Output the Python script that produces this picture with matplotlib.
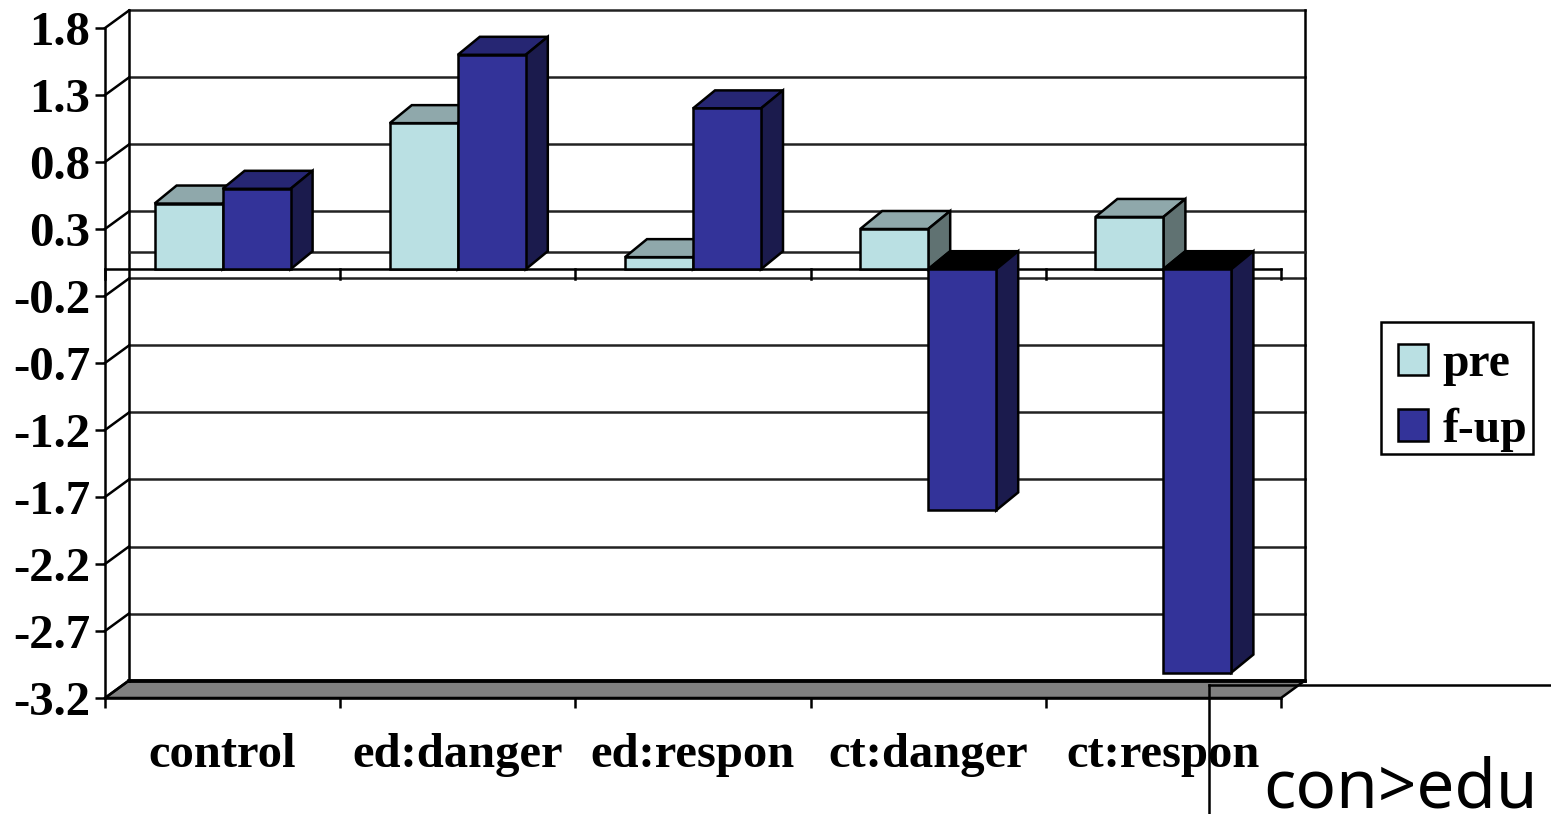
import matplotlib
matplotlib.use("Agg")
import matplotlib.pyplot as plt
from matplotlib.lines import Line2D
from matplotlib.patches import Patch, Polygon, Rectangle

categories = ["control", "ed:danger", "ed:respon", "ct:danger", "ct:respon"]
pre = [0.49, 1.09, 0.09, 0.30, 0.39]
fup = [0.60, 1.60, 1.20, -1.80, -3.01]
y_ticks = [1.8, 1.3, 0.8, 0.3, -0.2, -0.7, -1.2, -1.7, -2.2, -2.7, -3.2]
y_labels = ["1.8", "1.3", "0.8", "0.3", "-0.2", "-0.7", "-1.2", "-1.7", "-2.2", "-2.7", "-3.2"]

W, H = 1551, 814
SERIF = "Liberation Serif"
# size of one data unit in pixels, used for the fake 3d depth
PX_X = 1176 / 5
PX_Y = 670 / 5
WALL_DX, WALL_DY = 24 / PX_X, 17.5 / PX_Y
BAR_DX, BAR_DY = 22 / PX_X, 18 / PX_Y
BAR_W = 68 / PX_X
LW = 1.8

C_PRE = ("#bae0e3", "#8fa8ab", "#607272")
C_FUP = ("#333399", "#262673", "#1b1b4d")


def draw_bar(ax, x, val, colors, z):
    front, top, side = colors
    x1 = x + BAR_W
    kw = dict(edgecolor="black", linewidth=LW, clip_on=False, zorder=z, joinstyle="miter")
    # a negative bar shows the black inside of its top at the zero plane
    top_col = top if val >= 0 else "black"
    top_y = max(val, 0)
    ax.add_patch(Polygon([(x, top_y), (x + BAR_DX, top_y + BAR_DY),
                          (x1 + BAR_DX, top_y + BAR_DY), (x1, top_y)], facecolor=top_col, **kw))
    ax.add_patch(Polygon([(x1, 0), (x1 + BAR_DX, BAR_DY), (x1 + BAR_DX, val + BAR_DY),
                          (x1, val)], facecolor=side, **kw))
    ax.bar(x, val, width=BAR_W, align="edge", color=front, edgecolor="black",
           linewidth=LW, clip_on=False, zorder=z + 0.1)


fig = plt.figure(figsize=(W / 100, H / 100), dpi=100)
ax = fig.add_axes([105 / W, 1 - 698 / H, 1176 / W, 670 / H])
ax.set_xlim(0, 5)
ax.set_ylim(-3.2, 1.8)
for name in ["top", "right"]:
    ax.spines[name].set_visible(False)
for name in ["left", "bottom"]:
    ax.spines[name].set_linewidth(LW)
    ax.spines[name].set_zorder(2)

ax.set_yticks(y_ticks)
ax.set_yticklabels(y_labels, fontfamily=SERIF, fontweight="bold", fontsize=35.2)
ax.tick_params(axis="y", length=7.2, width=LW, pad=3.5)
ax.set_xticks(range(6))
ax.set_xticklabels([""] * 6)
ax.tick_params(axis="x", which="major", length=7.2, width=LW)
ax.set_xticks([i + 0.5 for i in range(5)], minor=True)
ax.set_xticklabels(categories, minor=True, fontfamily=SERIF, fontweight="bold", fontsize=35)
ax.tick_params(axis="x", which="minor", length=0, pad=25)

# floor
ax.add_patch(Polygon([(0, -3.2), (WALL_DX, -3.2 + WALL_DY), (5 + WALL_DX, -3.2 + WALL_DY), (5, -3.2)],
                     facecolor="#808080", edgecolor="black", linewidth=LW, clip_on=False, zorder=1))
ax.plot([WALL_DX, 5 + WALL_DX], [-3.2 + WALL_DY] * 2, color="black", lw=2.6, clip_on=False, zorder=1.5)

# back wall, side wall ticks and gridlines
for tick in y_ticks:
    ax.plot([WALL_DX, 5 + WALL_DX], [tick + WALL_DY] * 2, color="#222222", lw=LW, clip_on=False, zorder=1)
    ax.plot([0, WALL_DX], [tick, tick + WALL_DY], color="black", lw=LW, clip_on=False, zorder=1)
ax.plot([WALL_DX, WALL_DX], [-3.2 + WALL_DY, 1.8 + WALL_DY], color="black", lw=LW, clip_on=False, zorder=1)
ax.plot([5 + WALL_DX] * 2, [-3.2 + WALL_DY, 1.8 + WALL_DY], color="black", lw=LW, clip_on=False, zorder=1)

# zero plane
ax.plot([0, 5], [0, 0], color="black", lw=LW, clip_on=False, zorder=2)
ax.plot([WALL_DX, 5 + WALL_DX], [WALL_DY, WALL_DY], color="#222222", lw=LW, clip_on=False, zorder=1)
for i in range(6):
    ax.plot([i, i], [0, -10 / PX_Y], color="black", lw=LW, clip_on=False, zorder=2)

for i in range(5):
    mid = i + 0.5
    draw_bar(ax, mid - BAR_W, pre[i], C_PRE, 3 + i)
    draw_bar(ax, mid, fup[i], C_FUP, 3.5 + i)

# legend box drawn apart so its size can follow the original
fig.add_artist(Rectangle((1381 / W, 1 - 454 / H), 152 / W, 132 / H, transform=fig.transFigure,
                         facecolor="white", edgecolor="black", linewidth=LW, zorder=5))
handles = [Patch(facecolor=C_PRE[0], edgecolor="black", linewidth=LW, label="pre"),
           Patch(facecolor=C_FUP[0], edgecolor="black", linewidth=LW, label="f-up")]
leg = fig.legend(handles=handles, loc="upper left", bbox_to_anchor=(1381 / W, 1 - 325 / H),
                 borderaxespad=0, frameon=False,
                 prop={"family": SERIF, "weight": "bold", "size": 34.3},
                 handlelength=0.63, handleheight=0.63, handletextpad=0.3,
                 labelspacing=0.445, borderpad=0.36)
leg.set_zorder(6)

# annotation pasted over the chart
fig.add_artist(Line2D([1209 / W, 1], [1 - 685 / H] * 2, color="black", lw=LW, zorder=20))
fig.add_artist(Line2D([1209 / W, 1209 / W], [1 - 685 / H, 0], color="black", lw=LW, zorder=20))
fig.text(1263 / W, 1 - 807 / H, "con>edu", fontfamily="Noto Sans", fontsize=48.5,
         ha="left", va="baseline", zorder=20)

fig.savefig("out.png", dpi=100)
